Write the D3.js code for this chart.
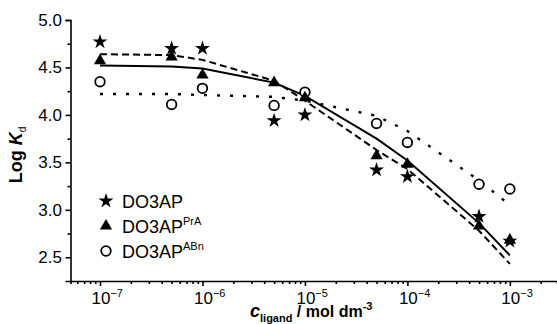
<!DOCTYPE html>
<html><head><meta charset="utf-8">
<script src="https://cdn.jsdelivr.net/npm/d3@7/dist/d3.min.js"></script>
<style>body{margin:0;background:#fff}svg{display:block}text{font-family:"Liberation Sans",Arial,sans-serif}</style>
</head><body>
<svg id="c" width="557" height="324"></svg>
<script>
const concentrations = [1e-7, 5e-7, 1e-6, 5e-6, 1e-5, 5e-5, 1e-4, 5e-4, 1e-3];
const seriesNames = ["DO3AP", "DO3AP", "DO3AP"];
const seriesSups = ["", "PrA", "ABn"];
const do3apValues = [4.77, 4.70, 4.70, 3.94, 4.00, 3.42, 3.35, 2.93, 2.67];
const prAValues = [4.57, 4.61, 4.42, 4.34, 4.18, 3.57, 3.48, 2.83, 2.68];
const aBnValues = [4.35, 4.11, 4.28, 4.10, 4.24, 3.91, 3.71, 3.27, 3.22];
const do3apFit = [4.64, 4.63, 4.58, 4.36, 4.15, 3.63, 3.43, 2.78, 2.43];
const prAFit = [4.52, 4.51, 4.49, 4.34, 4.20, 3.75, 3.52, 2.86, 2.52];
const aBnFit = [4.22, 4.22, 4.21, 4.19, 4.15, 3.99, 3.83, 3.31, 3.05];
const yTicks = [2.5, 3.0, 3.5, 4.0, 4.5, 5.0];
const xMajorExps = [-7, -6, -5, -4, -3];

const svg = d3.select("#c");
const x = d3.scaleLog().domain([Math.pow(10, -7.288), Math.pow(10, -2.54)]).range([70.5, 557]);
const y = d3.scaleLinear().domain([2.25, 5.0]).range([281, 20]);

// x axis
const minor = [];
for (let e = -8; e <= -3; e++) for (let k = 1; k <= 9; k++) {
  const v = k * Math.pow(10, e);
  if (v >= x.domain()[0] && v <= x.domain()[1]) minor.push(v);
}
const xAxis = svg.append("g").attr("transform", "translate(0,281)")
  .call(d3.axisBottom(x).tickValues(minor).tickSizeOuter(0).tickSize(3).tickFormat(""));
xAxis.selectAll(".tick line").attr("y2", d => Math.abs(Math.log10(d) - Math.round(Math.log10(d))) < 1e-9 ? 5 : 3);
xAxis.selectAll("line,path").attr("stroke", "#000").attr("stroke-width", 1.6);
xMajorExps.forEach(e => {
  const t = svg.append("text").attr("x", x(Math.pow(10, e)) - 8.5).attr("y", 304)
    .attr("font-size", 17).attr("text-anchor", "start");
  t.append("tspan").text("10");
  t.append("tspan").attr("dy", -7).attr("font-size", 11).text("\u2212" + (-e));
});

// y axis
const yMinor = d3.range(2.5, 5.001, 0.25);
const yAxis = svg.append("g").attr("transform", "translate(70.5,0)")
  .call(d3.axisLeft(y).tickValues(yMinor).tickSizeOuter(0).tickSize(5).tickFormat(""));
yAxis.selectAll(".tick line").attr("x2", d => (Math.abs(d * 2 - Math.round(d * 2)) < 1e-9) ? -5 : -3);
yAxis.selectAll("line,path").attr("stroke", "#000").attr("stroke-width", 1.6);
yTicks.forEach(v => {
  svg.append("text").attr("x", 62).attr("y", y(v) + 6).attr("text-anchor", "end")
    .attr("font-size", 17).text(v.toFixed(1));
});

// axis titles
const xt = svg.append("text").attr("x", 250).attr("y", 317).attr("font-weight", "bold");
xt.append("tspan").attr("font-style", "italic").attr("font-size", 18).text("c");
xt.append("tspan").attr("dy", 5).attr("font-size", 11).text("ligand");
xt.append("tspan").attr("dy", -5).attr("font-size", 16).text(" / mol dm");
xt.append("tspan").attr("dy", -7).attr("font-size", 11).text("-3");

const yt = svg.append("text").attr("transform", "translate(22,155) rotate(-90)")
  .attr("text-anchor", "middle").attr("font-size", 18).attr("font-weight", "bold");
yt.append("tspan").text("Log ");
yt.append("tspan").attr("font-style", "italic").text("K");
yt.append("tspan").attr("dy", 4).attr("font-size", 10).attr("font-weight", "normal").text("d");

// fit lines
const line = d3.line().x((d, i) => x(concentrations[i])).y(d => y(d));
const fits = [
  {v: do3apFit, dash: "7,4", w: 2},
  {v: prAFit, dash: null, w: 2},
  {v: aBnFit, dash: "3,10", w: 2.4}
];
fits.forEach(f => {
  svg.append("path").attr("d", line(f.v)).attr("fill", "none").attr("stroke", "#000")
    .attr("stroke-width", f.w).attr("stroke-dasharray", f.dash);
});

// points
const starSym = d3.symbol().type(d3.symbolStar).size(70);
const triSym = d3.symbol().type(d3.symbolTriangle).size(65);
function drawStar(g, cx, cy) { g.append("path").attr("d", starSym()).attr("transform", `translate(${cx},${cy})`).attr("fill", "#000"); }
function drawTri(g, cx, cy) { g.append("path").attr("d", triSym()).attr("transform", `translate(${cx},${cy})`).attr("fill", "#000"); }
function drawCirc(g, cx, cy) { g.append("circle").attr("cx", cx).attr("cy", cy).attr("r", 4.8).attr("fill", "#fff").attr("stroke", "#000").attr("stroke-width", 1.8); }
const pts = svg.append("g");
aBnValues.forEach((v, i) => drawCirc(pts, x(concentrations[i]), y(v)));
prAValues.forEach((v, i) => drawTri(pts, x(concentrations[i]), y(v)));
do3apValues.forEach((v, i) => drawStar(pts, x(concentrations[i]), y(v)));

// legend
const drawers = [drawStar, drawTri, drawCirc];
seriesNames.forEach((n, i) => {
  const cy = 201 + i * 25;
  drawers[i](svg, 106, cy);
  const t = svg.append("text").attr("x", 122).attr("y", cy + 7).attr("font-size", 18);
  t.append("tspan").text(n);
  if (seriesSups[i]) t.append("tspan").attr("dy", -8).attr("font-size", 11).text(seriesSups[i]);
});
</script>
</body></html>
